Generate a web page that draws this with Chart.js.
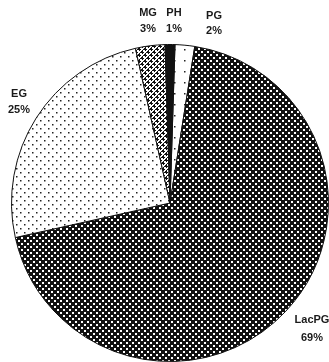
<!DOCTYPE html>
<html>
<head>
<meta charset="utf-8">
<script src="https://cdn.jsdelivr.net/npm/chart.js@4"></script>
<style>
html,body{margin:0;padding:0;background:#fff;}
#wrap{width:329px;height:362px;position:relative;}
</style>
</head>
<body>
<div id="wrap"><canvas id="c"></canvas></div>
<script>
// ---- data ----
const categories = ["PG", "LacPG", "EG", "MG", "PH"];
const values = [2, 69, 25, 3, 1];
const percentLabels = ["2%", "69%", "25%", "3%", "1%"];

// ---- patterns ----
function tile(w, h, bg, draw) {
  const c = document.createElement('canvas');
  c.width = w; c.height = h;
  const x = c.getContext('2d');
  x.fillStyle = bg; x.fillRect(0, 0, w, h);
  draw(x);
  return document.createElement('canvas').getContext('2d').createPattern(c, 'repeat');
}
const patPG = tile(10, 11, '#fff', x => { x.fillStyle = '#222'; x.fillRect(4, 5, 1.5, 1.5); });
const patLac = tile(6, 6, '#111', x => { x.fillStyle = '#fff'; x.fillRect(0, 0, 2, 2); x.fillRect(3, 3, 2, 2); });
const patEG = tile(8, 8, '#fff', x => { x.fillStyle = '#222'; x.fillRect(0, 0, 1.5, 1.5); x.fillRect(4, 4, 1.5, 1.5); });
const patMG = tile(6, 6, '#fff', x => {
  x.fillStyle = '#111';
  x.fillRect(0, 0, 2, 2); x.fillRect(3, 3, 2, 2);
  x.fillRect(2, 1, 1, 1); x.fillRect(1, 2, 1, 1);
  x.fillRect(5, 1, 1, 1); x.fillRect(4, 2, 1, 1);
  x.fillRect(2, 4, 1, 1); x.fillRect(1, 5, 1, 1);
  x.fillRect(5, 4, 1, 1); x.fillRect(4, 5, 1, 1);
});
const patPH = '#111';

// label placement (layout only)
const labelPlace = {
  PG:    {x: 214, y1: 16,  y2: 31},
  LacPG: {x: 312, y1: 320, y2: 338},
  EG:    {x: 19,  y1: 94,  y2: 110},
  MG:    {x: 148, y1: 13,  y2: 29},
  PH:    {x: 174, y1: 13,  y2: 29}
};

const labelPlugin = {
  id: 'sliceLabels',
  afterDraw(chart) {
    const ctx = chart.ctx;
    ctx.save();
    ctx.fillStyle = '#1a1a1a';
    ctx.textAlign = 'center';
    ctx.textBaseline = 'middle';
    ctx.font = 'bold 11px "Liberation Sans", Arial, sans-serif';
    chart.data.labels.forEach((lab, i) => {
      const p = labelPlace[lab];
      ctx.fillText(lab, p.x, p.y1);
      ctx.fillText(percentLabels[i], p.x, p.y2);
    });
    ctx.restore();
  }
};

new Chart(document.getElementById('c'), {
  type: 'pie',
  data: {
    labels: categories,
    datasets: [{
      data: values,
      backgroundColor: [patPG, patLac, patEG, patMG, patPH],
      borderColor: '#111',
      borderWidth: 1
    }]
  },
  options: {
    responsive: true,
    maintainAspectRatio: false,
    animation: false,
    rotation: 1.8,
    layout: {padding: {left: 11, top: 44, right: 0, bottom: 0}},
    plugins: {legend: {display: false}, tooltip: {enabled: false}}
  },
  plugins: [labelPlugin]
});
</script>
</body>
</html>
